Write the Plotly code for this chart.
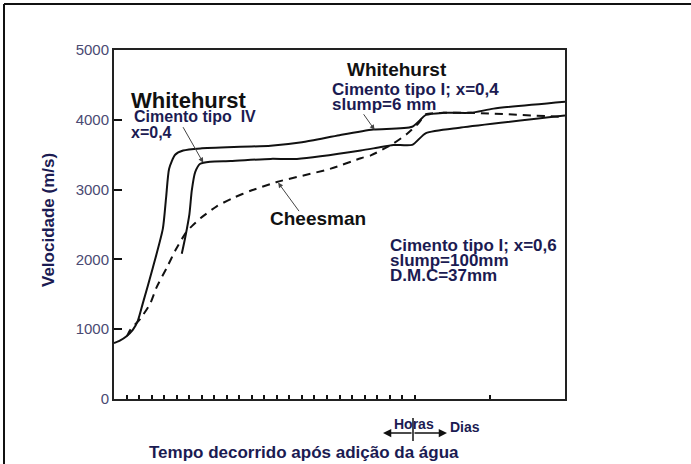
import plotly.graph_objects as go

# Pulse velocity vs time after adding water (hours up to 24, then days)
whitehurst_I_t = [0, 0.5, 1.0, 1.5, 1.9, 2.3, 3.1, 3.9, 4.16, 4.4, 4.88, 5.52, 6.9, 12.5, 15.0, 18.0, 20.7, 23.8, 24.9, 26.3, 28.5, 30.3, 36.0]
whitehurst_I_v = [800, 840, 900, 990, 1120, 1370, 1880, 2440, 2890, 3300, 3500, 3560, 3590, 3630, 3680, 3780, 3860, 3900, 4070, 4100, 4100, 4160, 4260]

whitehurst_IV_t = [5.41, 5.68, 6.02, 6.21, 6.48, 6.88, 7.68, 9.3, 12.5, 14.6, 19.7, 21.0, 22.3, 23.8, 24.9, 27.7, 36.0]
whitehurst_IV_v = [2080, 2310, 2650, 2990, 3250, 3370, 3400, 3410, 3440, 3440, 3560, 3600, 3640, 3640, 3810, 3890, 4060]

cheesman_t = [1.04, 1.3, 2.1, 2.9, 3.4, 4.24, 4.9, 5.8, 6.24, 6.9, 8.2, 9.5, 11.0, 12.5, 13.0, 17.3, 19.7, 20.5, 22.3, 23.4, 24.3, 24.9, 26.3, 28.5, 36.0]
cheesman_v = [900, 990, 1150, 1370, 1600, 1890, 2130, 2400, 2480, 2590, 2760, 2880, 2990, 3080, 3110, 3300, 3450, 3490, 3660, 3800, 3950, 4080, 4100, 4100, 4040]

y_ticks = [0, 1000, 2000, 3000, 4000, 5000]
x_ticks = list(range(1, 25)) + [30]

NAVY = "#1b1b52"
BLACK = "#111111"
FONT = "Arial, Liberation Sans, sans-serif"

# plot area in page pixels
L, R, T, B = 114, 126, 50, 65
W, H = 691, 464
PW, PH = W - L - R, H - T - B


def px_x(x):
    return (x - L) / PW


def px_y(y):
    return (H - B - y) / PH


fig = go.Figure()
line_style = dict(color=BLACK, width=2, shape="spline", smoothing=0.6)
fig.add_trace(go.Scatter(x=whitehurst_I_t, y=whitehurst_I_v, mode="lines", line=line_style))
fig.add_trace(go.Scatter(x=whitehurst_IV_t, y=whitehurst_IV_v, mode="lines", line=line_style))
fig.add_trace(go.Scatter(x=cheesman_t, y=cheesman_v, mode="lines",
                         line=dict(line_style, dash="8px,6px")))

annotations = []


def label(text, x, y, size, color, xanchor="left", bold=True, angle=0):
    annotations.append(dict(
        text=f"<b>{text}</b>" if bold else text,
        x=px_x(x), y=px_y(y), xref="paper", yref="paper",
        xanchor=xanchor, yanchor="middle", showarrow=False, textangle=angle,
        borderpad=0,
        font=dict(family=FONT, size=size, color=color)))


label("Whitehurst", 130, 100, 22, BLACK)
label("Cimento tipo\u00a0\u00a0IV", 133, 117, 16, NAVY)
label("x=0,4", 130, 132, 16, NAVY)
label("Whitehurst", 346, 69, 19, BLACK)
label("Cimento tipo I; x=0,4", 331, 89, 17, NAVY)
label("slump=6 mm", 331, 104, 17, NAVY)
label("Cheesman", 269, 218, 19, BLACK)
label("Cimento tipo I; x=0,6", 389, 245, 17, NAVY)
label("slump=100mm", 389, 260, 17, NAVY)
label("D.M.C=37mm", 389, 275, 17, NAVY)
label("Horas", 414, 424, 14, NAVY, xanchor="center")
label("Dias", 465, 427, 14, NAVY, xanchor="center")
label("Tempo decorrido após adição da água", 304, 452, 17, NAVY, xanchor="center")
label("Velocidade (m/s)", 48, 220, 17, NAVY, xanchor="center", angle=-90)

# pointer arrows (head in data units, tail offset in pixels)
for hx, hy, ax, ay in [(7.12, 3386, -21, -37), (20.8, 3857, -12, -17), (13.1, 3100, 22, 30)]:
    annotations.append(dict(x=hx, y=hy, xref="x", yref="y", text="", showarrow=True,
                            ax=ax, ay=ay, arrowhead=2, arrowsize=1, arrowwidth=1,
                            arrowcolor="#444444"))

# Horas <-> Dias double arrow
for head_x, dx in [(383, 30), (447, -34)]:
    annotations.append(dict(x=px_x(head_x), y=px_y(433), xref="paper", yref="paper",
                            text="", showarrow=True, ax=dx, ay=0, arrowhead=2,
                            arrowsize=1.1, arrowwidth=1.5, arrowcolor=BLACK))

shapes = [
    dict(type="line", xref="paper", yref="paper", x0=px_x(413), x1=px_x(413),
         y0=px_y(418), y1=px_y(441), line=dict(color=BLACK, width=1.5)),
    # outer frame
    dict(type="line", xref="paper", yref="paper", x0=px_x(4), x1=px_x(4),
         y0=px_y(4), y1=px_y(H), line=dict(color=BLACK, width=2)),
    dict(type="line", xref="paper", yref="paper", x0=px_x(4), x1=px_x(W),
         y0=px_y(4), y1=px_y(4), line=dict(color=BLACK, width=2)),
]

fig.update_layout(
    width=W, height=H, margin=dict(l=L, r=R, t=T, b=B),
    paper_bgcolor="white", plot_bgcolor="white", showlegend=False,
    annotations=annotations, shapes=shapes,
    xaxis=dict(range=[0, 36], tickvals=x_ticks, showticklabels=False, ticks="inside",
               ticklen=4, tickwidth=1.5, tickcolor=BLACK, showgrid=False, zeroline=False,
               showline=True, linecolor="#222222", linewidth=2, mirror=True),
    yaxis=dict(range=[0, 5000], tickvals=y_ticks, ticks="inside", ticklen=8, tickwidth=1.5,
               tickcolor=BLACK, showgrid=False, zeroline=False, showline=True,
               linecolor="#222222", linewidth=2, mirror=True,
               tickfont=dict(family=FONT, size=15, color="#4a4a72")),
)

fig.write_html("out.html")
